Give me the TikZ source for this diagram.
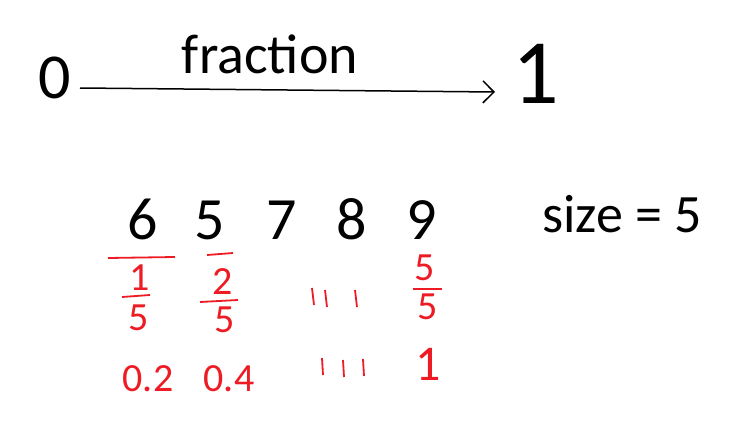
\documentclass[tikz,border=0pt]{standalone}
\usepackage{fontspec}
\setmainfont{Carlito}
\usetikzlibrary{arrows.meta}
\definecolor{paintred}{RGB}{237,28,36}

\begin{document}
\begin{tikzpicture}[x=1pt,y=-1pt,
    digit/.style={inner sep=0pt,anchor=base,text depth=0pt,font=\fontsize{60}{62}\selectfont},
    hand/.style={inner sep=0pt},
    redtxt/.style={paintred,inner sep=0pt,text depth=0pt,font=\fontsize{40}{42}\selectfont},
    redline/.style={paintred,line width=1.8pt}]
    \useasboundingbox (0,0) rectangle (731,423);
    % number line from 0 to 1
    \node[hand,font=\fontsize{64}{66}\selectfont] (zero) at (55,78) {0};
    \node[hand,font=\fontsize{92}{94}\selectfont] (one) at (536,74) {1};
    \node[hand,font=\fontsize{56}{58}\selectfont,anchor=base] (frac) at (270,73) {fraction};
    \coordinate (start) at (80,88);
    \coordinate (end) at (495,92);
    \draw[-{Straight Barb[length=11pt,width=22pt]},line width=1.5pt] (start) -- (end);
    \node[hand,font=\fontsize{54}{56}\selectfont] (size) at (622,214) {size = 5};
    % the numbers
    \foreach \d/\x [count=\i] in {6/143,5/210,7/282,8/352,9/422}
        \node[digit] (d\i) at (\x,239) {\d};
    % fractions
    \draw[redline] (108,258) -- (175,257);
    \node[redtxt] (n1) at (140,278) {1};
    \draw[redline] (122,297) -- (150,295);
    \node[redtxt] (m1) at (139,318) {5};
    \draw[redline] (207,255) -- (233,253);
    \node[redtxt] (n2) at (223,282) {2};
    \draw[redline] (200,302) -- (238,300);
    \node[redtxt] (m2) at (225,320) {5};
    \node[redtxt] (n5) at (425,268) {5};
    \draw[redline] (413,289) -- (442,289);
    \node[redtxt] (m5) at (428,307) {5};
    \foreach \a/\b in {312/288,325/290,355/290}
        \draw[redline] (\a,\b) -- ++(2,17);
    % decimals
    \node[redtxt] (p1) at (148,379) {0.2};
    \node[redtxt] (p2) at (229,379) {0.4};
    \node[redtxt,font=\fontsize{50}{52}\selectfont] (p5) at (428,364) {1};
    \foreach \a/\b in {322/358,343/360,363/359}
        \draw[redline] (\a,\b) -- ++(1,17);
\end{tikzpicture}
\end{document}
